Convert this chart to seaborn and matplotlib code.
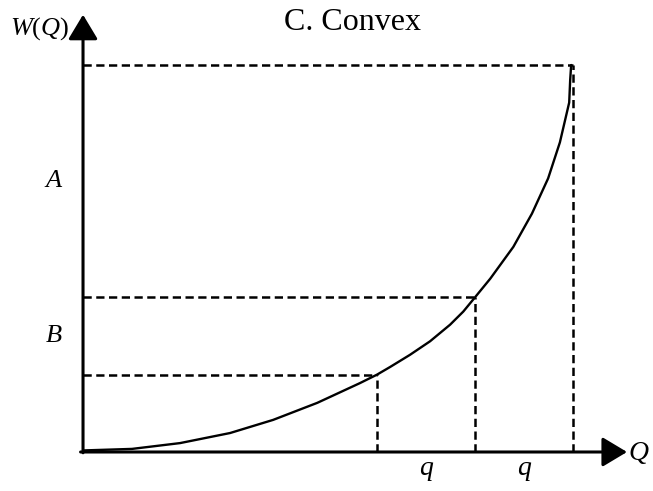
import matplotlib
matplotlib.use("Agg")
import matplotlib.pyplot as plt
import seaborn as sns
import pandas as pd

# curve (Q, W(Q) in arbitrary units)
q_curve = [0.0, 1.0, 1.98, 3.0, 3.88, 4.78, 5.65, 6.0, 6.27, 6.67, 7.08, 7.49,
           7.76, 8.0, 8.31, 8.78, 9.16, 9.49, 9.73, 9.92, 9.94, 9.96]
w_curve = [0.04, 0.08, 0.23, 0.49, 0.83, 1.27, 1.78, 2.0, 2.20, 2.51, 2.86, 3.29,
           3.63, 4.0, 4.48, 5.30, 6.16, 7.07, 8.0, 9.03, 9.61, 10.0]

# guide points where the dashed lines meet the curve
guide_q = [6.0, 8.0, 10.0]
guide_w = [2.0, 4.0, 10.0]

# labels
title = "C. Convex"
region_labels = ["A", "B"]
region_w = [7.0, 3.0]
step_labels = ["q", "q"]
step_q = [7.0, 9.0]

sns.set_style("white")
plt.rcParams["font.family"] = ["Liberation Serif", "DejaVu Serif"]
plt.rcParams["mathtext.fontset"] = "custom"
plt.rcParams["mathtext.rm"] = "Liberation Serif"
plt.rcParams["mathtext.it"] = "Liberation Serif:italic"
plt.rcParams["text.color"] = "black"

fig = plt.figure(figsize=(6.53, 4.91), dpi=100)
ax = fig.add_axes([0, 0, 1, 1])

df = pd.DataFrame({"Q": q_curve, "W": w_curve})
sns.lineplot(data=df, x="Q", y="W", sort=False, estimator=None,
             color="black", lw=1.7, ax=ax)

# dashed guides
dash = (0, (3.3, 1.8))
ax.hlines(guide_w, 0, guide_q, colors="black", lw=1.8, linestyles=[dash])
ax.vlines(guide_q, 0, guide_w, colors="black", lw=1.8, linestyles=[dash])

# axes with arrow heads
arrow = dict(arrowstyle="-|>,head_length=0.4,head_width=0.24", mutation_scale=38,
             lw=2.2, color="black", shrinkA=0, shrinkB=0)
ax.annotate("", xy=(0, 11.3), xytext=(0, -0.02), arrowprops=arrow)
ax.annotate("", xy=(11.1, 0), xytext=(-0.05, 0), arrowprops=arrow)

ax.text(5.5, 11.1, title, ha="center", va="center", fontsize=23, color="black")
ax.text(-0.27, 10.93, r"$W\mathrm{(}Q\mathrm{)}$", ha="right", va="center",
        fontsize=19, color="black")
ax.text(11.12, -0.03, r"$Q$", ha="left", va="center", fontsize=20, color="black")
for lab, w in zip(region_labels, region_w):
    ax.text(-0.6, w, lab, ha="center", va="center", fontsize=19,
            style="italic", color="black")
for lab, q in zip(step_labels, step_q):
    ax.text(q, -0.42, lab, ha="center", va="center", fontsize=20,
            style="italic", color="black")

ax.set_xlim(-1.694, 11.63)
ax.set_ylim(-1.008, 11.68)
ax.set_axis_off()

fig.savefig("out.png", dpi=100)
